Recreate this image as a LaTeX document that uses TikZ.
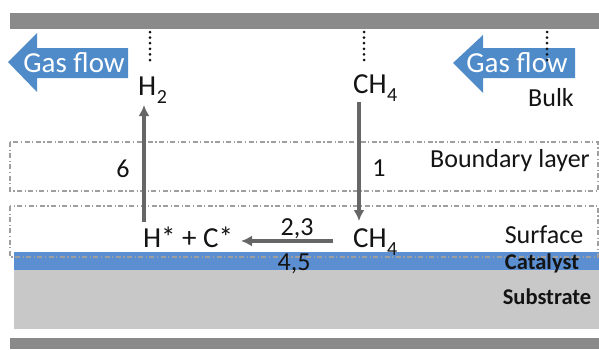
\documentclass[tikz,border=0pt]{standalone}
\usepackage{fontspec}
\setmainfont{Carlito}
\usetikzlibrary{arrows.meta}
\definecolor{barg}{HTML}{8A8A8A}
\definecolor{catblue}{HTML}{5B8FD2}
\definecolor{flowblue}{HTML}{4F8AC9}
\definecolor{subg}{HTML}{C8C8C8}
\definecolor{arrg}{HTML}{666666}
\definecolor{txt}{HTML}{141414}
\newcommand\lowsub[1]{\kern0.5pt\raisebox{-8pt}{\fontsize{20}{20}\selectfont #1}}
\begin{document}
\begin{tikzpicture}[x=1pt,y=-1pt,
  lbl/.style={inner sep=0pt,text=txt,font=\fontsize{26}{26}\selectfont},
  chem/.style={inner sep=0pt,text=txt,font=\fontsize{29}{29}\selectfont},
  layerbold/.style={inner sep=0pt,text=txt,font=\fontsize{22.5}{22.5}\selectfont\bfseries},
  flowtxt/.style={inner sep=0pt,text=white,font=\fontsize{29}{29}\selectfont},
  react/.style={draw=arrg,line width=3.2pt,-{Latex[length=11pt,width=11pt]}},
  dotline/.style={line width=3pt,dash pattern=on 0pt off 5.6pt,line cap=round,draw=txt},
  layerbox/.style={draw=gray!75,line width=1.1pt,dash pattern=on 5pt off 2.5pt on 1.2pt off 2.5pt}
]
\useasboundingbox (0,0) rectangle (599,349);
\fill[white] (0,0) rectangle (599,349);
% bars
\fill[barg] (10,13) rectangle (599,29);
\fill[barg] (10,338) rectangle (599,349);
% substrate and catalyst
\fill[subg] (14,270) rectangle (599,329);
\fill[catblue] (14,252) rectangle (599,270);
% layer boxes
\draw[layerbox] (10,142) rectangle (598,191);
\draw[layerbox] (10,206) rectangle (598,257);
% gas flow arrows
\fill[flowblue] (8,62) -- (37,33) -- (37,48) -- (128,48) -- (128,78) -- (37,78) -- (37,92) -- cycle;
\node[flowtxt] (gf1) at (74,63) {Gas flow};
\fill[flowblue] (453,63) -- (483,35) -- (483,48) -- (575,48) -- (575,78) -- (483,78) -- (483,93) -- cycle;
\node[flowtxt] (gf2) at (517,63) {Gas flow};
% dotted lines
\coordinate (d1a) at (150,32); \coordinate (d1b) at (150,61);
\coordinate (d2a) at (364,32); \coordinate (d2b) at (364,61);
\coordinate (d3a) at (547,32); \coordinate (d3b) at (547,61);
\draw[dotline] (d1a) -- (d1b);
\draw[dotline] (d2a) -- (d2b);
\draw[dotline] (d3a) -- (d3b);
% species
\node[chem,anchor=base west] (h2) at (138,95) {H\lowsub{2}};
\node[chem,anchor=base west] (ch4b) at (353,93) {CH\lowsub{4}};
\node[chem,anchor=base] (hc) at (188,247) {H* + C*};
\node[chem,anchor=base west] (ch4s) at (353,247) {CH\lowsub{4}};
% labels
\node[lbl] (bulk) at (551,98) {Bulk};
\node[lbl] (bl) at (510,161) {Boundary layer};
\node[lbl] (surf) at (544,235) {Surface};
\node[layerbold] (cat) at (542,263) {Catalyst};
\node[layerbold] (sub) at (547,297) {Substrate};
\node[lbl] (n6) at (123,169) {6};
\node[lbl] (n1) at (379,168) {1};
\node[lbl] (n23) at (297,229) {2,3};
\node[lbl] (n45) at (294,264) {4,5};
% reaction arrows
\coordinate (a6s) at (144,222); \coordinate (a6e) at (144,105);
\coordinate (a1s) at (359,102); \coordinate (a1e) at (359,221);
\coordinate (a2s) at (333,241); \coordinate (a2e) at (241,241);
\draw[react] (a6s) -- (a6e);
\draw[react] (a1s) -- (a1e);
\draw[react] (a2s) -- (a2e);
\end{tikzpicture}
\end{document}
